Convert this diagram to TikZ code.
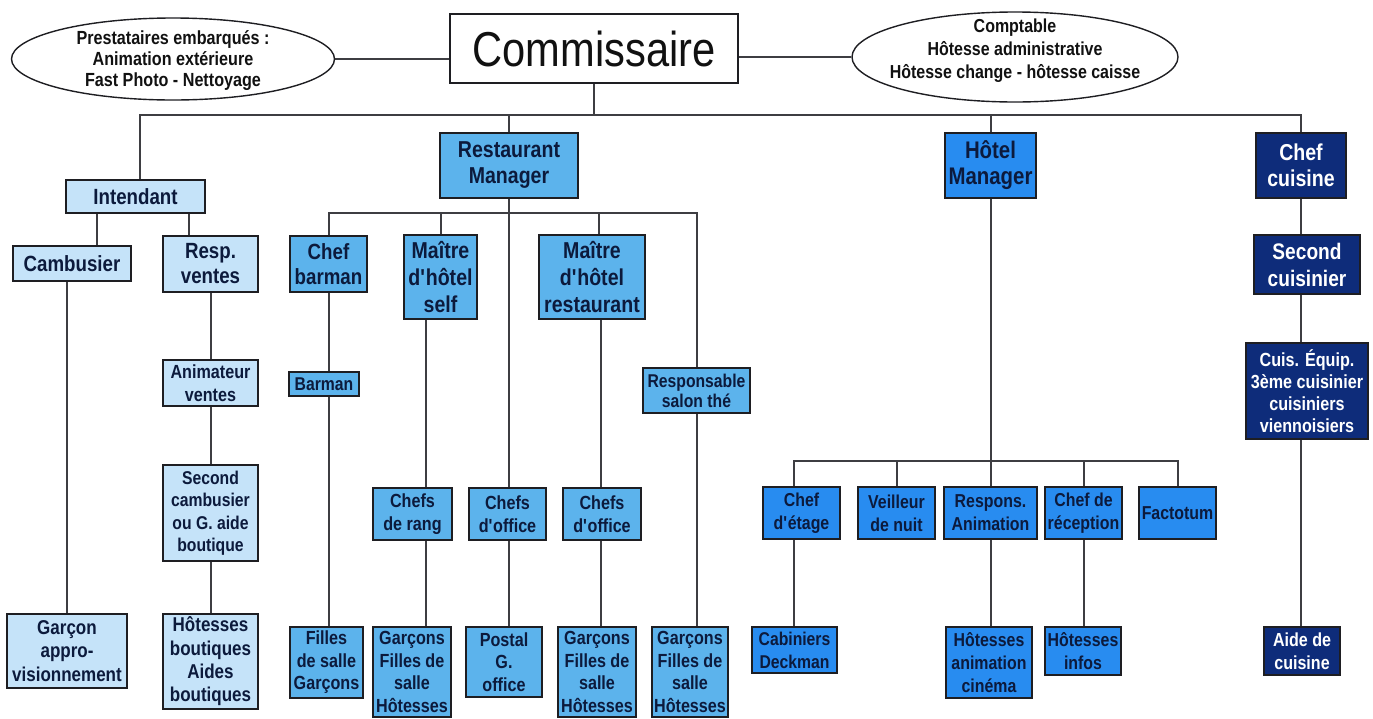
\documentclass[tikz,border=0pt]{standalone}
\usepackage{fontspec}
\setmainfont{Liberation Sans}[FakeStretch=0.85]
\usetikzlibrary{shapes.geometric}
\pgfdeclarelayer{paper}
\pgfdeclarelayer{bg}
\pgfsetlayers{paper,bg,main}

\definecolor{cPale}{RGB}{197,227,249}
\definecolor{cResto}{RGB}{92,179,236}
\definecolor{cHotel}{RGB}{40,140,240}
\definecolor{cNavy}{RGB}{14,44,122}
\definecolor{cInk}{RGB}{12,26,60}
\definecolor{cEdge}{RGB}{30,30,34}
\definecolor{cLine}{RGB}{62,62,66}
\definecolor{cText}{RGB}{17,17,17}

\newcommand{\ap}{\textquotesingle}

\tikzset{
  fs/.style 2 args={font=\fontsize{#1}{#2}\selectfont\bfseries},
  wh/.style 2 args={minimum width=#1pt, minimum height=#2pt},
  box/.style={draw=cEdge, line width=1.6pt, inner sep=0pt, align=center, fs={19}{22.5}},
  pale/.style={box, fill=cPale, text=cInk},
  resto/.style={box, fill=cResto, text=cInk},
  hotel/.style={box, fill=cHotel, text=cInk},
  navy/.style={box, fill=cNavy, text=white},
  oval/.style={draw=cEdge, line width=1.4pt, fill=white, ellipse, inner sep=0pt},
  ovaltext/.style={align=center, inner sep=0pt, text=cText},
  link/.style={draw=cLine, line width=2pt},
}

\begin{document}
\begin{tikzpicture}[x=1pt, y=-1pt]
\begin{pgfonlayer}{paper}
  \fill[white] (0,0) rectangle (1373,718);
\end{pgfonlayer}
\useasboundingbox (0,0) rectangle (1373,718);

% bus bar levels
\coordinate (mbar) at (0,115);
\coordinate (rbar) at (0,213);
\coordinate (hbar) at (0,461);

% head and attached services
\node[draw=cEdge, line width=1.6pt, fill=white, wh={288}{69}, inner sep=0pt,
      font=\fontsize{49}{52}\selectfont, text=cText] (comm) at (594,48.5) {Commissaire};
\node[oval, wh={323}{82}] (ellL) at (173,59) {};
\node[ovaltext, fs={19}{21}] (ellLt) at (173,61)
  {Prestataires embarqués :\\Animation extérieure\\Fast Photo - Nettoyage};
\node[oval, wh={326}{90}] (ellR) at (1015,57) {};
\node[ovaltext, fs={18.8}{23}] (ellRt) at (1015,51)
  {Comptable\\Hôtesse administrative\\Hôtesse change - hôtesse caisse};

% first level
\node[pale, wh={139}{33}, fs={22}{25}] (intd) at (135.5,196.5) {Intendant};
\node[resto, wh={138}{65}, fs={23}{26}] (rm) at (509,165.5) {Restaurant\\Manager};
\node[hotel, wh={91}{65}, fs={24}{26}] (hm) at (990.5,165.5) {Hôtel\\Manager};
\node[navy, wh={90}{65}, fs={23}{26}] (chefc) at (1301,165.5) {Chef\\cuisine};

% intendant branch
\node[pale, wh={118}{35}, fs={22}{25}] (camb) at (72,263.5) {Cambusier};
\node[pale, wh={95}{56}, fs={22}{25}] (resp) at (210.5,264) {Resp.\\ventes};
\node[pale, wh={95}{46}, fs={19}{23}] (anim) at (210.5,383) {Animateur\\ventes};
\node[pale, wh={95}{96}, fs={18.5}{22.5}] (secc) at (210.5,513) {Second\\cambusier\\ou G. aide\\boutique};
\node[pale, wh={95}{95}, fs={20}{23.3}] (hotb) at (210.5,661.5) {Hôtesses\\boutiques\\Aides\\boutiques};
\node[pale, wh={120}{74}, fs={20}{23.5}] (garc) at (67,651) {Garçon\\appro-\\visionnement};

% restaurant branch
\node[resto, wh={77}{56}, fs={22}{25}] (chefbar) at (328.5,264) {Chef\\barman};
\node[resto, wh={70}{24}, fs={18.5}{20}] (barman) at (324,384) {Barman};
\node[resto, wh={73}{71}] (filles) at (326.5,662.5) {Filles\\de salle\\Garçons};
\node[resto, wh={73}{84}, fs={23}{27}] (mhs) at (440.5,277) {Maître\\d\ap hôtel\\self};
\node[resto, wh={79}{52}] (chr) at (412.5,514) {Chefs\\de rang};
\node[resto, wh={78}{90}] (gfs1) at (412,672) {Garçons\\Filles de\\salle\\Hôtesses};
\node[resto, wh={77}{52}] (cdo1) at (507.5,514) {Chefs\\d\ap office};
\node[resto, wh={76}{70}] (postal) at (504,662) {Postal\\G.\\office};
\node[resto, wh={106}{84}, fs={23}{27}] (mhr) at (592,277) {Maître\\d\ap hôtel\\restaurant};
\node[resto, wh={78}{52}] (cdo2) at (602,514) {Chefs\\d\ap office};
\node[resto, wh={78}{90}] (gfs2) at (597,672) {Garçons\\Filles de\\salle\\Hôtesses};
\node[resto, wh={107}{45}, fs={18.5}{20}] (rst) at (696.5,390.5) {Responsable\\salon thé};
\node[resto, wh={76}{90}] (gfs3) at (690,672) {Garçons\\Filles de\\salle\\Hôtesses};

% hotel branch
\node[hotel, wh={77}{52}, fs={18.7}{23}] (ced) at (801.5,513) {Chef\\d\ap étage};
\node[hotel, wh={77}{52}, fs={18.7}{23}] (vdn) at (896.5,513) {Veilleur\\de nuit};
\node[hotel, wh={93}{52}, fs={18.7}{23}] (ran) at (990.5,513) {Respons.\\Animation};
\node[hotel, wh={77}{52}, fs={18.7}{23}] (cdr) at (1083.5,513) {Chef de\\réception};
\node[hotel, wh={77}{52}, fs={18.7}{23}] (fac) at (1177.5,513) {Factotum};
\node[hotel, wh={85}{46}, fs={18.5}{23}] (cab) at (794.5,650) {Cabiniers\\Deckman};
\node[hotel, wh={86}{71}, fs={18.7}{23}] (hac) at (989,662.5) {Hôtesses\\animation\\cinéma};
\node[hotel, wh={76}{48}, fs={18.7}{23}] (hin) at (1083,651) {Hôtesses\\infos};

% kitchen branch
\node[navy, wh={106}{59}, fs={22.5}{27}] (sec) at (1307,264.5) {Second\\cuisinier};
\node[navy, wh={122}{96}, fs={19}{22}] (cuis) at (1307,391) {Cuis. Équip.\\3ème cuisinier\\cuisiniers\\viennoisiers};
\node[navy, wh={76}{48}, fs={18.9}{23}] (aide) at (1302,651) {Aide de\\cuisine};

\begin{pgfonlayer}{bg}
  % head
  \draw[link] (ellL.east) -- (ellL.east -| comm.west);
  \draw[link] (comm.east |- ellR.west) -- (ellR.west);
  \draw[link] (comm.south) -- (comm.south |- mbar);
  \draw[link] ([xshift=4.5pt]intd.north) -- ([xshift=4.5pt]intd.north |- mbar) -- (chefc.north |- mbar) -- (chefc.north);
  \draw[link] (rm.north) -- (rm.north |- mbar);
  \draw[link] (hm.north) -- (hm.north |- mbar);
  % intendant
  \draw[link] ([xshift=-38.5pt]intd.south) -- ([xshift=-38.5pt]intd.south |- camb.north);
  \draw[link] ([xshift=53.5pt]intd.south) -- ([xshift=53.5pt]intd.south |- resp.north);
  \draw[link] (garc.north) -- (garc.north |- camb.south);
  \draw[link] (resp.south) -- (hotb.north);
  % restaurant
  \draw[link] (chefbar.north) -- (chefbar.north |- rbar) -- (rst.north |- rbar) -- (rst.north);
  \draw[link] (rm.south) -- (rm.south |- postal.north);
  \draw[link] (mhs.north) -- (mhs.north |- rbar);
  \draw[link] ([xshift=7pt]mhr.north) -- ([xshift=7pt]mhr.north |- rbar);
  \draw[link] (chefbar.south) -- (chefbar.south |- filles.north);
  \draw[link] ([xshift=-15pt]mhs.south) -- ([xshift=-15pt]mhs.south |- gfs1.north);
  \draw[link] ([xshift=9pt]mhr.south) -- ([xshift=9pt]mhr.south |- gfs2.north);
  \draw[link] (rst.south) -- (rst.south |- gfs3.north);
  % hotel
  \draw[link] (hm.south) -- (hm.south |- hac.north);
  \draw[link] ([xshift=-7.5pt]ced.north) -- ([xshift=-7.5pt]ced.north |- hbar) -- (fac.north |- hbar) -- (fac.north);
  \draw[link] (vdn.north) -- (vdn.north |- hbar);
  \draw[link] (cdr.north) -- (cdr.north |- hbar);
  \draw[link] ([xshift=-7.5pt]ced.south) -- ([xshift=-7.5pt]ced.south |- cab.north);
  \draw[link] (cdr.south) -- (cdr.south |- hin.north);
  % kitchen
  \draw[link] (chefc.south) -- (chefc.south |- aide.north);
\end{pgfonlayer}
\end{tikzpicture}
\end{document}
